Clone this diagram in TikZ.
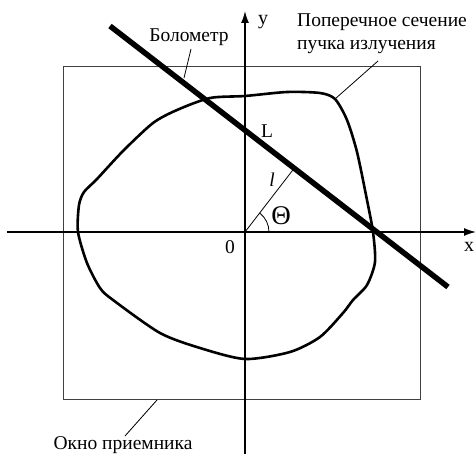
\documentclass[tikz,border=0pt]{standalone}
\usepackage{fontspec}
\setmainfont{Liberation Serif}
\usetikzlibrary{arrows.meta,calc}
\begin{document}
\begin{tikzpicture}[x=1pt,y=-1pt,
  lbl/.style={font=\fontsize{19.5}{22}\selectfont, inner sep=0pt},
  axlbl/.style={font=\fontsize{20}{22}\selectfont, inner sep=0pt},
  axis/.style={line width=1.4pt,-{Latex[length=12pt,width=8pt]}},
  leader/.style={line width=0.8pt},
  window/.style={line width=0.9pt, black!75},
  beam/.style={line width=2.6pt, line join=round},
  bolo/.style={line width=5.5pt}]
\useasboundingbox (0,0) rectangle (476,454);
% receiver window
\draw[window] (63,66) rectangle (420,399);
% beam cross-section
\draw[beam] plot[smooth cycle, tension=0.45] coordinates {
 (335,99) (347,120) (357,152) (367,200) (373,232) (375,262) (367,285)
 (353,300) (343,313) (320,337) (290,352) (245,359) (200,348) (160,333)
 (113,300) (100,288) (87,263) (78,232) (79,205) (84,192) (97,179) (123,151)
 (153,123) (177,110) (210,98) (245,96) (287,92) (320,93)};
% axes
\coordinate (O) at (245,232);
\coordinate (xs) at (7,232);
\coordinate (xe) at (476,232);
\coordinate (ys) at (245,454);
\coordinate (ye) at (245,11);
\draw[axis] (xs) -- (xe);
\draw[axis] (ys) -- (ye);
% bolometer
\coordinate (B1) at (110,26);
\coordinate (B2) at (448,287);
\draw[bolo] (B1) -- (B2);
% perpendicular l
\coordinate (F) at ($(B1)!(O)!(B2)$);
\draw[line width=0.8pt] (O) -- (F);
\draw[line width=0.8pt] (269,232) arc[start angle=0, end angle=-52.3, radius=24];
% labels
\node[axlbl] (ylab) at (263,22) {y};
\node[axlbl] (xlab) at (469,247) {x};
\node[lbl] (zero) at (230,247) {0};
\node[lbl] (Llab) at (267,131) {L};
\node[lbl] (llab) at (272,180) {\itshape l};
\node[font=\fontsize{27}{29}\selectfont, inner sep=0pt] (th) at (281,216) {Θ};
\node[lbl, anchor=base] (bolotxt) at (189,42) {Болометр};
\node[lbl, anchor=base west] (sec1) at (297,27) {Поперечное сечение};
\node[lbl, anchor=base west] (sec2) at (297,50) {пучка излучения};
\node[lbl, anchor=base] (okno) at (123,449) {Окно приемника};
% leaders
\coordinate (bl) at (184,78);
\coordinate (cl) at (335,99);
\coordinate (wl) at (157,400);
\draw[leader] (191,49) -- (bl);
\draw[leader] (378,61) -- (cl);
\draw[leader] (125,436) -- (wl);
\end{tikzpicture}
\end{document}
